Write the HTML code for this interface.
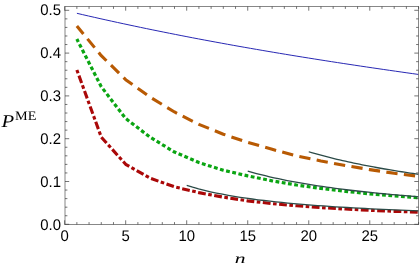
<!DOCTYPE html>
<html><head><meta charset="utf-8"><style>
html,body{margin:0;padding:0;background:#fff;}
svg{display:block;will-change:transform;}
text{font-family:"Liberation Sans",sans-serif;text-rendering:geometricPrecision;}
</style></head><body>
<svg width="420" height="265" viewBox="0 0 420 265">
<rect width="420" height="265" fill="#fff"/>
<g fill="none" stroke-linejoin="round">
<polyline points="76.90,13.31 82.69,14.66 88.48,15.99 94.27,17.30 100.06,18.61 105.85,19.90 111.64,21.18 117.43,22.44 123.22,23.69 129.01,24.93 134.80,26.16 140.59,27.38 146.38,28.58 152.17,29.77 157.96,30.95 163.75,32.12 169.54,33.28 175.33,34.42 181.12,35.56 186.91,36.68 192.70,37.80 198.49,38.90 204.28,39.99 210.07,41.07 215.86,42.14 221.65,43.20 227.44,44.26 233.23,45.30 239.02,46.33 244.81,47.35 250.59,48.37 256.38,49.37 262.17,50.37 267.96,51.35 273.75,52.33 279.54,53.30 285.33,54.26 291.12,55.22 296.91,56.16 302.70,57.10 308.49,58.03 314.28,58.95 320.07,59.87 325.86,60.78 331.65,61.68 337.44,62.57 343.23,63.46 349.02,64.34 354.81,65.21 360.60,66.08 366.39,66.94 372.18,67.80 377.97,68.65 383.76,69.49 389.55,70.33 395.34,71.17 401.13,71.99 406.92,72.82 412.71,73.64 418.50,74.45" stroke="#2828b4" stroke-width="1.0"/>
<polyline points="76.86,26.01 101.27,55.67 125.68,79.68 150.09,97.10 174.50,111.99 198.91,124.40 223.31,134.21 247.72,142.38 272.13,149.31 296.55,155.91 320.96,161.00 345.37,165.49 369.77,169.60 394.19,173.28 418.60,176.32" stroke="#b85a03" stroke-width="3.1" stroke-dasharray="11.3 6.38" stroke-dashoffset="1"/>
<polyline points="76.86,39.06 101.27,86.70 125.68,118.50 150.09,137.20 174.50,152.05 198.91,162.58 223.31,170.20 247.72,175.89 272.13,180.86 296.55,185.01 320.96,188.43 345.37,191.34 369.77,193.83 394.19,195.92 418.60,197.72" stroke="#0aa512" stroke-width="3.2" stroke-dasharray="3.8 2.52" stroke-dashoffset="0.6"/>
<polyline points="76.86,69.92 101.27,137.12 125.68,164.29 150.09,178.20 174.50,186.81 198.91,192.63 223.31,197.16 247.72,200.85 272.13,203.63 296.55,205.81 320.96,207.61 345.37,209.06 369.77,210.30 394.19,211.33 418.60,212.14" stroke="#aa0808" stroke-width="3.1" stroke-dasharray="3.6 2.5 7.78 2.5"/>
<polyline points="308.75,151.75 311.57,152.58 314.38,153.39 317.20,154.18 320.02,154.95 322.83,155.71 325.65,156.45 328.47,157.18 331.28,157.88 334.10,158.58 336.92,159.26 339.73,159.92 342.55,160.58 345.37,161.22 348.18,161.84 351.00,162.46 353.81,163.06 356.63,163.65 359.45,164.23 362.26,164.80 365.08,165.36 367.90,165.90 370.71,166.44 373.53,166.97 376.35,167.49 379.16,168.00 381.98,168.50 384.80,168.99 387.61,169.47 390.43,169.94 393.25,170.41 396.06,170.87 398.88,171.32 401.70,171.76 404.51,172.20 407.33,172.62 410.15,173.04 412.96,173.46 415.78,173.87 418.60,174.27" stroke="#2b4a47" stroke-width="1.3"/>
<polyline points="247.72,171.09 252.11,172.33 256.49,173.52 260.87,174.65 265.25,175.73 269.63,176.77 274.01,177.77 278.39,178.72 282.78,179.64 287.16,180.52 291.54,181.36 295.92,182.17 300.30,182.96 304.68,183.71 309.06,184.44 313.44,185.14 317.83,185.82 322.21,186.47 326.59,187.11 330.97,187.72 335.35,188.31 339.73,188.88 344.11,189.44 348.49,189.98 352.88,190.50 357.26,191.01 361.64,191.50 366.02,191.97 370.40,192.44 374.78,192.89 379.16,193.32 383.54,193.75 387.93,194.16 392.31,194.57 396.69,194.96 401.07,195.34 405.45,195.71 409.83,196.08 414.21,196.43 418.60,196.78" stroke="#2b4a47" stroke-width="1.3"/>
<polyline points="186.70,185.44 192.65,187.24 198.59,188.89 204.54,190.39 210.48,191.78 216.43,193.05 222.38,194.23 228.32,195.32 234.27,196.34 240.21,197.28 246.16,198.17 252.11,199.00 258.05,199.78 264.00,200.51 269.94,201.20 275.89,201.85 281.84,202.46 287.78,203.04 293.73,203.59 299.67,204.12 305.62,204.62 311.57,205.09 317.51,205.54 323.46,205.97 329.40,206.38 335.35,206.78 341.30,207.15 347.24,207.52 353.19,207.86 359.13,208.19 365.08,208.51 371.03,208.82 376.97,209.11 382.92,209.40 388.86,209.67 394.81,209.93 400.76,210.19 406.70,210.43 412.65,210.67 418.60,210.90" stroke="#2b4a47" stroke-width="1.3"/>
</g>
<g stroke="#686868" stroke-width="0.8" fill="none">
<path d="M65 6.1V224.9M418.5 6.1V224.9M64.6 6.5H418.9M64.6 224.5H418.9"/>
</g>
<g stroke="#3a3a3a" stroke-width="0.7" fill="none">
<line x1="64.65" y1="224.5" x2="64.65" y2="220.3"/>
<line x1="64.65" y1="6.5" x2="64.65" y2="10.7"/>
<line x1="76.86" y1="224.5" x2="76.86" y2="222.1"/>
<line x1="76.86" y1="6.5" x2="76.86" y2="8.9"/>
<line x1="89.06" y1="224.5" x2="89.06" y2="222.1"/>
<line x1="89.06" y1="6.5" x2="89.06" y2="8.9"/>
<line x1="101.27" y1="224.5" x2="101.27" y2="222.1"/>
<line x1="101.27" y1="6.5" x2="101.27" y2="8.9"/>
<line x1="113.47" y1="224.5" x2="113.47" y2="222.1"/>
<line x1="113.47" y1="6.5" x2="113.47" y2="8.9"/>
<line x1="125.68" y1="224.5" x2="125.68" y2="220.3"/>
<line x1="125.68" y1="6.5" x2="125.68" y2="10.7"/>
<line x1="137.88" y1="224.5" x2="137.88" y2="222.1"/>
<line x1="137.88" y1="6.5" x2="137.88" y2="8.9"/>
<line x1="150.09" y1="224.5" x2="150.09" y2="222.1"/>
<line x1="150.09" y1="6.5" x2="150.09" y2="8.9"/>
<line x1="162.29" y1="224.5" x2="162.29" y2="222.1"/>
<line x1="162.29" y1="6.5" x2="162.29" y2="8.9"/>
<line x1="174.50" y1="224.5" x2="174.50" y2="222.1"/>
<line x1="174.50" y1="6.5" x2="174.50" y2="8.9"/>
<line x1="186.70" y1="224.5" x2="186.70" y2="220.3"/>
<line x1="186.70" y1="6.5" x2="186.70" y2="10.7"/>
<line x1="198.91" y1="224.5" x2="198.91" y2="222.1"/>
<line x1="198.91" y1="6.5" x2="198.91" y2="8.9"/>
<line x1="211.11" y1="224.5" x2="211.11" y2="222.1"/>
<line x1="211.11" y1="6.5" x2="211.11" y2="8.9"/>
<line x1="223.31" y1="224.5" x2="223.31" y2="222.1"/>
<line x1="223.31" y1="6.5" x2="223.31" y2="8.9"/>
<line x1="235.52" y1="224.5" x2="235.52" y2="222.1"/>
<line x1="235.52" y1="6.5" x2="235.52" y2="8.9"/>
<line x1="247.72" y1="224.5" x2="247.72" y2="220.3"/>
<line x1="247.72" y1="6.5" x2="247.72" y2="10.7"/>
<line x1="259.93" y1="224.5" x2="259.93" y2="222.1"/>
<line x1="259.93" y1="6.5" x2="259.93" y2="8.9"/>
<line x1="272.13" y1="224.5" x2="272.13" y2="222.1"/>
<line x1="272.13" y1="6.5" x2="272.13" y2="8.9"/>
<line x1="284.34" y1="224.5" x2="284.34" y2="222.1"/>
<line x1="284.34" y1="6.5" x2="284.34" y2="8.9"/>
<line x1="296.55" y1="224.5" x2="296.55" y2="222.1"/>
<line x1="296.55" y1="6.5" x2="296.55" y2="8.9"/>
<line x1="308.75" y1="224.5" x2="308.75" y2="220.3"/>
<line x1="308.75" y1="6.5" x2="308.75" y2="10.7"/>
<line x1="320.96" y1="224.5" x2="320.96" y2="222.1"/>
<line x1="320.96" y1="6.5" x2="320.96" y2="8.9"/>
<line x1="333.16" y1="224.5" x2="333.16" y2="222.1"/>
<line x1="333.16" y1="6.5" x2="333.16" y2="8.9"/>
<line x1="345.37" y1="224.5" x2="345.37" y2="222.1"/>
<line x1="345.37" y1="6.5" x2="345.37" y2="8.9"/>
<line x1="357.57" y1="224.5" x2="357.57" y2="222.1"/>
<line x1="357.57" y1="6.5" x2="357.57" y2="8.9"/>
<line x1="369.77" y1="224.5" x2="369.77" y2="220.3"/>
<line x1="369.77" y1="6.5" x2="369.77" y2="10.7"/>
<line x1="381.98" y1="224.5" x2="381.98" y2="222.1"/>
<line x1="381.98" y1="6.5" x2="381.98" y2="8.9"/>
<line x1="394.19" y1="224.5" x2="394.19" y2="222.1"/>
<line x1="394.19" y1="6.5" x2="394.19" y2="8.9"/>
<line x1="406.39" y1="224.5" x2="406.39" y2="222.1"/>
<line x1="406.39" y1="6.5" x2="406.39" y2="8.9"/>
<line x1="418.60" y1="224.5" x2="418.60" y2="222.1"/>
<line x1="418.60" y1="6.5" x2="418.60" y2="8.9"/>
<line x1="65.0" y1="224.30" x2="69.2" y2="224.30"/>
<line x1="418.5" y1="224.30" x2="414.3" y2="224.30"/>
<line x1="65.0" y1="215.74" x2="67.4" y2="215.74"/>
<line x1="418.5" y1="215.74" x2="416.1" y2="215.74"/>
<line x1="65.0" y1="207.18" x2="67.4" y2="207.18"/>
<line x1="418.5" y1="207.18" x2="416.1" y2="207.18"/>
<line x1="65.0" y1="198.62" x2="67.4" y2="198.62"/>
<line x1="418.5" y1="198.62" x2="416.1" y2="198.62"/>
<line x1="65.0" y1="190.06" x2="67.4" y2="190.06"/>
<line x1="418.5" y1="190.06" x2="416.1" y2="190.06"/>
<line x1="65.0" y1="181.50" x2="69.2" y2="181.50"/>
<line x1="418.5" y1="181.50" x2="414.3" y2="181.50"/>
<line x1="65.0" y1="172.94" x2="67.4" y2="172.94"/>
<line x1="418.5" y1="172.94" x2="416.1" y2="172.94"/>
<line x1="65.0" y1="164.38" x2="67.4" y2="164.38"/>
<line x1="418.5" y1="164.38" x2="416.1" y2="164.38"/>
<line x1="65.0" y1="155.82" x2="67.4" y2="155.82"/>
<line x1="418.5" y1="155.82" x2="416.1" y2="155.82"/>
<line x1="65.0" y1="147.26" x2="67.4" y2="147.26"/>
<line x1="418.5" y1="147.26" x2="416.1" y2="147.26"/>
<line x1="65.0" y1="138.70" x2="69.2" y2="138.70"/>
<line x1="418.5" y1="138.70" x2="414.3" y2="138.70"/>
<line x1="65.0" y1="130.14" x2="67.4" y2="130.14"/>
<line x1="418.5" y1="130.14" x2="416.1" y2="130.14"/>
<line x1="65.0" y1="121.58" x2="67.4" y2="121.58"/>
<line x1="418.5" y1="121.58" x2="416.1" y2="121.58"/>
<line x1="65.0" y1="113.02" x2="67.4" y2="113.02"/>
<line x1="418.5" y1="113.02" x2="416.1" y2="113.02"/>
<line x1="65.0" y1="104.46" x2="67.4" y2="104.46"/>
<line x1="418.5" y1="104.46" x2="416.1" y2="104.46"/>
<line x1="65.0" y1="95.90" x2="69.2" y2="95.90"/>
<line x1="418.5" y1="95.90" x2="414.3" y2="95.90"/>
<line x1="65.0" y1="87.34" x2="67.4" y2="87.34"/>
<line x1="418.5" y1="87.34" x2="416.1" y2="87.34"/>
<line x1="65.0" y1="78.78" x2="67.4" y2="78.78"/>
<line x1="418.5" y1="78.78" x2="416.1" y2="78.78"/>
<line x1="65.0" y1="70.22" x2="67.4" y2="70.22"/>
<line x1="418.5" y1="70.22" x2="416.1" y2="70.22"/>
<line x1="65.0" y1="61.66" x2="67.4" y2="61.66"/>
<line x1="418.5" y1="61.66" x2="416.1" y2="61.66"/>
<line x1="65.0" y1="53.10" x2="69.2" y2="53.10"/>
<line x1="418.5" y1="53.10" x2="414.3" y2="53.10"/>
<line x1="65.0" y1="44.54" x2="67.4" y2="44.54"/>
<line x1="418.5" y1="44.54" x2="416.1" y2="44.54"/>
<line x1="65.0" y1="35.98" x2="67.4" y2="35.98"/>
<line x1="418.5" y1="35.98" x2="416.1" y2="35.98"/>
<line x1="65.0" y1="27.42" x2="67.4" y2="27.42"/>
<line x1="418.5" y1="27.42" x2="416.1" y2="27.42"/>
<line x1="65.0" y1="18.86" x2="67.4" y2="18.86"/>
<line x1="418.5" y1="18.86" x2="416.1" y2="18.86"/>
<line x1="65.0" y1="10.30" x2="69.2" y2="10.30"/>
<line x1="418.5" y1="10.30" x2="414.3" y2="10.30"/>
</g>
<g font-size="15.4" fill="#000" id="lbl">
<text transform="translate(64.65 240.6) scale(0.97 1)" text-anchor="middle">0</text>
<text transform="translate(125.68 240.6) scale(0.97 1)" text-anchor="middle">5</text>
<text transform="translate(186.70 240.6) scale(0.97 1)" text-anchor="middle">10</text>
<text transform="translate(247.72 240.6) scale(0.97 1)" text-anchor="middle">15</text>
<text transform="translate(308.75 240.6) scale(0.97 1)" text-anchor="middle">20</text>
<text transform="translate(369.77 240.6) scale(0.97 1)" text-anchor="middle">25</text>
<text transform="translate(61 229.50) scale(0.97 1)" text-anchor="end">0.0</text>
<text transform="translate(61 186.54) scale(0.97 1)" text-anchor="end">0.1</text>
<text transform="translate(61 143.58) scale(0.97 1)" text-anchor="end">0.2</text>
<text transform="translate(61 100.62) scale(0.97 1)" text-anchor="end">0.3</text>
<text transform="translate(61 57.66) scale(0.97 1)" text-anchor="end">0.4</text>
<text transform="translate(61 14.70) scale(0.97 1)" text-anchor="end">0.5</text>
</g>
<text transform="translate(1.6 127.4) scale(1.15 1)" font-style="italic" font-size="18" style="font-family:'Liberation Serif',serif">P</text>
<text x="15" y="119.9" font-size="13" textLength="21.3" lengthAdjust="spacingAndGlyphs" style="font-family:'Liberation Serif',serif">ME</text>
<text x="234.8" y="262.7" font-style="italic" font-size="14" textLength="10.8" lengthAdjust="spacingAndGlyphs" style="font-family:'Liberation Serif',serif">n</text>
</svg>
</body></html>
